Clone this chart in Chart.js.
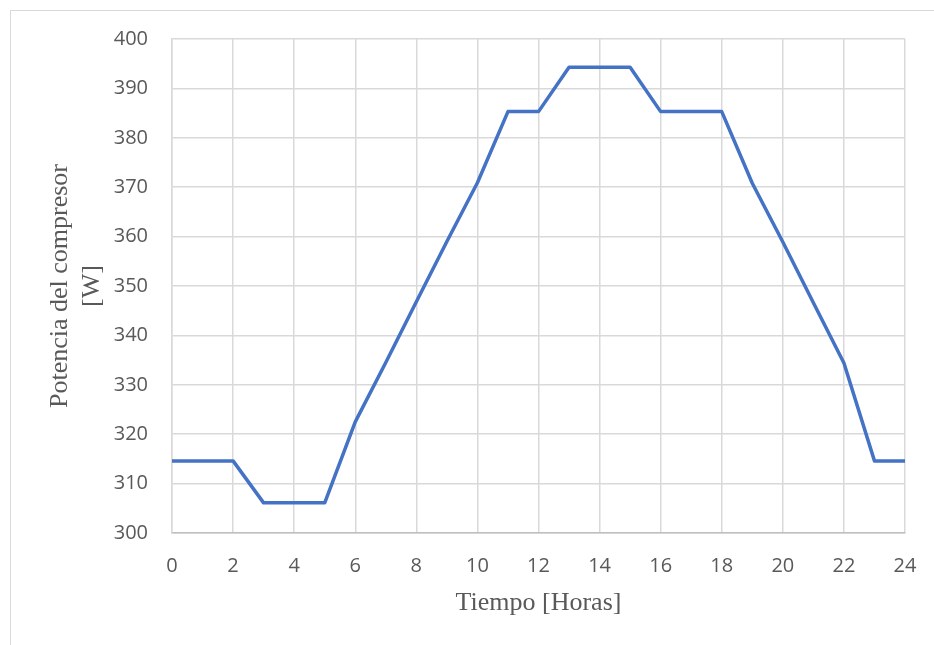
<!DOCTYPE html>
<html>
<head>
<meta charset="utf-8">
<script src="https://cdn.jsdelivr.net/npm/chart.js@4/dist/chart.umd.min.js"></script>
<style>
  body { margin: 0; background: #fff; }
  #wrap { position: relative; width: 934px; height: 645px; overflow: hidden; }
  #frame { position: absolute; left: 10px; top: 10px; width: 1000px; height: 1000px; border: 1px solid #d9d9d9; }
  #compChart { position: absolute; left: 0; top: 0; }
</style>
</head>
<body>
<div id="wrap">
  <div id="frame"></div>
  <canvas id="compChart" width="934" height="645"></canvas>
</div>
<script>
// hourly compressor power over one day
let hours = [0, 1, 2, 3, 4, 5, 6, 7, 8, 9, 10, 11, 12, 13, 14, 15, 16, 17, 18, 19, 20, 21, 22, 23, 24];
let power = [314.6, 314.6, 314.6, 306.1, 306.1, 306.1, 322.5, 334.5, 346.8, 359.0, 370.9, 385.3, 385.3,
             394.3, 394.3, 394.3, 385.3, 385.3, 385.3, 370.8, 358.9, 346.6, 334.4, 314.6, 314.6];

let xTitle = 'Tiempo [Horas]';
let yTitle = ['Potencia del compresor', '[W]'];

let points = hours.map((h, i) => ({ x: h, y: power[i] }));

let ctxComp = document.getElementById('compChart');

let compChart = new Chart(ctxComp, {
    type: 'line',
    data: {
        datasets: [{
            data: points,
            borderColor: '#4472c4',
            borderWidth: 3.5,
            pointRadius: 0,
            tension: 0,
            borderJoinStyle: 'round',
            borderCapStyle: 'round'
        }]
    },
    options: {
        responsive: false,
        animation: false,
        layout: {
            padding: { left: 0, top: 39, right: 29, bottom: 0 }
        },
        plugins: {
            legend: { display: false },
            tooltip: { enabled: false }
        },
        scales: {
            x: {
                type: 'linear',
                min: 0,
                max: 24,
                afterFit: (axis) => {
                    axis.height = 112;
                    axis.paddingLeft = 0;
                    axis.paddingRight = 0;
                },
                ticks: {
                    stepSize: 2,
                    padding: 21,
                    color: '#595959',
                    font: { family: 'Open Sans', size: 20 }
                },
                grid: { color: '#d9d9d9', lineWidth: 1.5, drawTicks: false },
                border: { color: '#bfbfbf', width: 1.5 },
                title: {
                    display: true,
                    text: xTitle,
                    color: '#595959',
                    font: { family: 'Liberation Serif', size: 26, lineHeight: 1.23 },
                    padding: { top: 0, bottom: 26 }
                }
            },
            y: {
                min: 300,
                max: 400,
                afterFit: (axis) => { axis.width = 172; },
                ticks: {
                    stepSize: 10,
                    padding: 24,
                    color: '#595959',
                    font: { family: 'Open Sans', size: 20 }
                },
                grid: { color: '#d9d9d9', lineWidth: 1.5, drawTicks: false },
                border: { color: '#d9d9d9', width: 1.5 },
                title: {
                    display: true,
                    text: yTitle,
                    color: '#595959',
                    font: { family: 'Liberation Serif', size: 26, lineHeight: 1.23 },
                    padding: { top: 44, bottom: 0 }
                }
            }
        }
    }
});
</script>
</body>
</html>
